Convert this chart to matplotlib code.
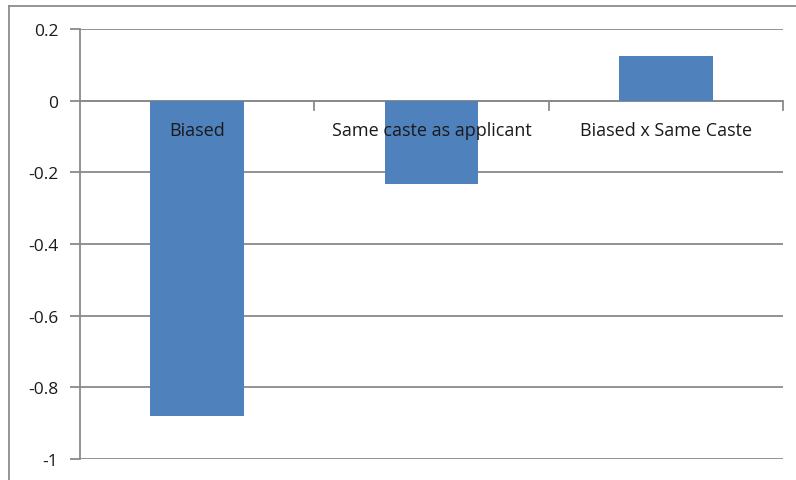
import matplotlib
matplotlib.use("Agg")
import matplotlib.pyplot as plt
from matplotlib.lines import Line2D

categories = ["Biased", "Same caste as applicant", "Biased x Same Caste"]
values = [-0.88, -0.233, 0.124]
y_ticks = [0.2, 0, -0.2, -0.4, -0.6, -0.8, -1]
y_tick_labels = ["0.2", "0", "-0.2", "-0.4", "-0.6", "-0.8", "-1"]

plt.rcParams["font.family"] = ["Open Sans", "DejaVu Sans"]

W, H = 796, 481
fig = plt.figure(figsize=(W / 100, H / 100), dpi=100)
fig.patch.set_facecolor("white")

# chart-area border (top and left edges visible)
fig.add_artist(Line2D([9 / W, 9 / W], [0, 1 - 7 / H], transform=fig.transFigure,
                      color="#8c8c8c", lw=1.3))
fig.add_artist(Line2D([9 / W, 1], [1 - 7 / H, 1 - 7 / H], transform=fig.transFigure,
                      color="#8c8c8c", lw=1.3))

ax = fig.add_axes([80 / W, 1 - 460 / H, (783 - 80) / W, (460 - 30) / H])

grid_color = "#8a8a8a"
text_color = "#1a1a1a"
x = list(range(len(categories)))
ax.bar(x, values, width=0.4, color="#4F81BD", zorder=3)

ax.set_xlim(-0.5, len(categories) - 0.5)
ax.set_ylim(-1, 0.2)
ax.set_yticks(y_ticks)
ax.set_yticklabels(y_tick_labels, fontsize=12.5, color=text_color)
ax.yaxis.grid(True, color=grid_color, lw=1.3, zorder=0)
ax.set_axisbelow(True)
ax.tick_params(axis="y", length=7.5, width=1.3, color=grid_color, pad=8)

ax.set_xticks([])
for s in ["top", "right", "bottom"]:
    ax.spines[s].set_visible(False)
ax.spines["left"].set_color(grid_color)
ax.spines["left"].set_linewidth(1.3)

# horizontal axis at zero with category-boundary ticks
ax.axhline(0, color=grid_color, lw=1.3, zorder=2)
for b in [0.5, 1.5, 2.5]:
    ax.plot([b, b], [0, -0.025], color=grid_color, lw=1.3, zorder=2, clip_on=False)

# category labels just below the zero line
for xi, name in zip(x, categories):
    ax.text(xi, -0.083, name, ha="center", va="center", fontsize=13,
            color=text_color, zorder=4)

fig.savefig("out.png", dpi=100)
